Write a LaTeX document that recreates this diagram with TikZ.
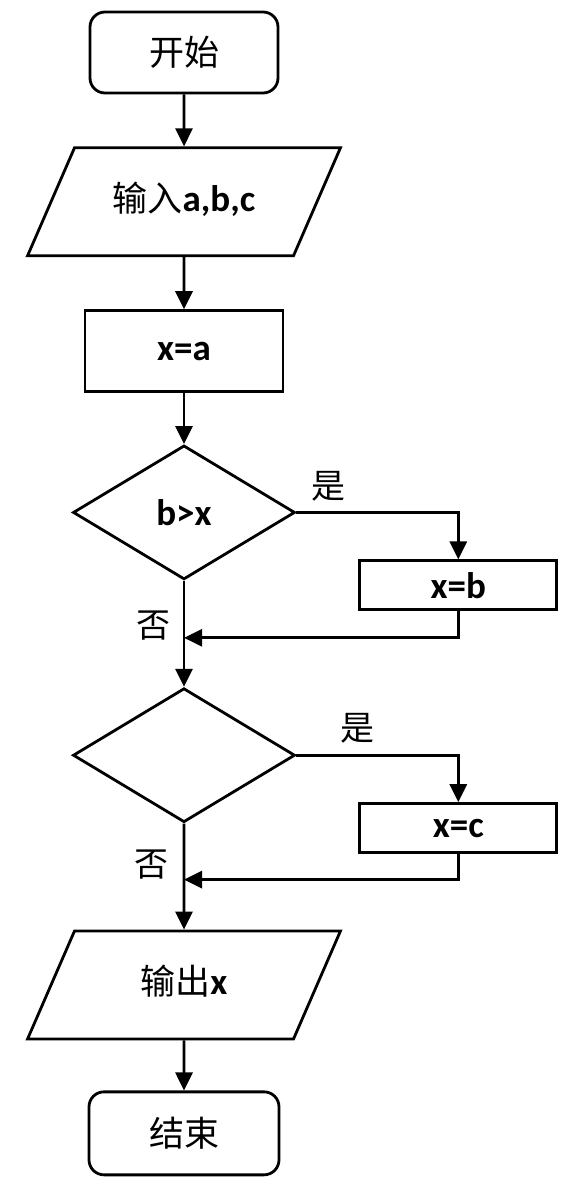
\documentclass[tikz,border=0pt]{standalone}
\usepackage{fontspec}
\setmainfont{Carlito}
\newfontfamily\cjk{Noto Sans CJK SC}
\newcommand{\zhtxt}[1]{{\cjk\mdseries\fontsize{35}{40}\selectfont #1}}
\usetikzlibrary{shapes.geometric, arrows.meta, positioning, calc}

\begin{document}
\begin{tikzpicture}[
    node distance=52pt,
    base/.style={draw, line width=2.8pt, inner sep=0pt, font=\fontsize{37}{40}\selectfont\bfseries},
    term/.style={base, rectangle, rounded corners=15pt, minimum width=188pt, minimum height=81pt},
    io/.style={base, trapezium, trapezium left angle=66.5, trapezium right angle=113.5,
        text width=150pt, align=center, text height=27pt, text depth=8pt,
        inner xsep=34.5pt, inner ysep=36.5pt},
    proc/.style={base, rectangle, minimum width=198pt, minimum height=81pt},
    decision/.style={base, diamond, minimum width=222pt, minimum height=134pt},
    small/.style={base, rectangle, minimum width=197pt, minimum height=49pt},
    lbl/.style={font=\fontsize{34}{38}\selectfont\cjk, inner sep=3pt},
    arrow/.style={-{Triangle[length=18pt,width=17pt]}, line width=2.8pt}
]
    \useasboundingbox (0pt,0pt) rectangle (563pt,-1186pt);

    % Main chain
    \node[term] (start) at (184pt,-52.5pt) {\zhtxt{开始}};
    \node[io, below=of start] (input) {\zhtxt{输入}a,b,c};
    \node[proc, below=of input] (xa) {x=a};
    \node[decision, below=51pt of xa] (cmpb) {b>x};
    \node[decision, below=106pt of cmpb] (cmpc) {};
    \node[io, below=106pt of cmpc] (output) {\zhtxt{输出}x};
    \node[term, below=50pt of output, minimum width=190pt, minimum height=83pt] (stop) {\zhtxt{结束}};

    % Branches
    \node[small, below right=47pt and 62pt of cmpb.east] (xb) {x=b};
    \node[small, below right=47pt and 62pt of cmpc.east] (xc) {x=c};

    % Joins on the trunk
    \coordinate[below=57pt of cmpb.south] (joinb);
    \coordinate[below=56pt of cmpc.south] (joinc);

    % Trunk arrows
    \draw[arrow] (start) -- (input);
    \draw[arrow] (input) -- (xa);
    \draw[arrow] (xa) -- (cmpb);
    \draw[arrow] (cmpb) -- (cmpc);
    \draw[arrow] (cmpc) -- (output);
    \draw[arrow] (output) -- (stop);

    % Yes branches
    \draw[arrow] (cmpb.east) -| node[lbl, pos=0.1, above, yshift=7pt] (yesb) {是} (xb.north);
    \draw[arrow] (xb.south) |- (joinb);
    \draw[arrow] (cmpc.east) -| node[lbl, pos=0.19, above, yshift=8pt] (yesc) {是} (xc.north);
    \draw[arrow] (xc.south) |- (joinc);

    % No labels
    \node[lbl] (nob) at ($(joinb)+(-31pt,12pt)$) {否};
    \node[lbl] (noc) at ($(joinc)+(-33pt,15pt)$) {否};
\end{tikzpicture}
\end{document}
